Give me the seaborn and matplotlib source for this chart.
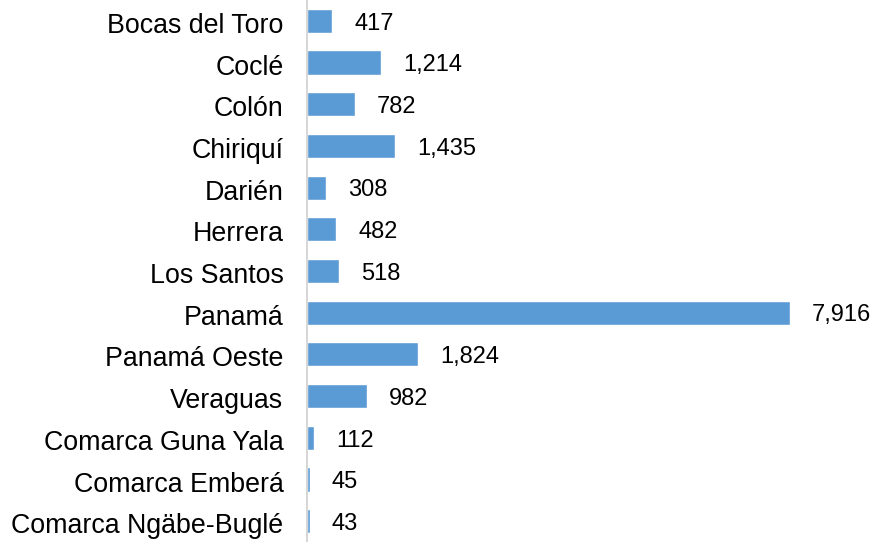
import matplotlib
matplotlib.use("Agg")
import matplotlib.pyplot as plt
import matplotlib.transforms as mtransforms
import seaborn as sns
import pandas as pd

provinces = ["Bocas del Toro", "Coclé", "Colón", "Chiriquí", "Darién", "Herrera",
             "Los Santos", "Panamá", "Panamá Oeste", "Veraguas",
             "Comarca Guna Yala", "Comarca Emberá", "Comarca Ngäbe-Buglé"]
values = [417, 1214, 782, 1435, 308, 482, 518, 7916, 1824, 982, 112, 45, 43]

df = pd.DataFrame({"prov": provinces, "val": values})

sns.set_theme(style="white")
plt.rcParams['font.family'] = ['Liberation Sans', 'DejaVu Sans']

fig = plt.figure(figsize=(8.76, 5.42), dpi=100)
ax = fig.add_axes([307/876, 0.0, 1 - 307/876, 1.0])
sns.barplot(data=df, x="val", y="prov", color="#5B9BD5", saturation=1,
            width=0.58, ax=ax, orient="h")
ax.set_xlim(0, 9325)
ax.set_ylim(12.5, -0.5)
ax.set_xlabel("")
ax.set_ylabel("")
ax.set_xticks([])
for s in ["top", "right", "bottom"]:
    ax.spines[s].set_visible(False)
ax.spines["left"].set_color("#D0D0D0")
ax.spines["left"].set_linewidth(1.2)
ax.tick_params(axis="y", length=0, pad=17, labelsize=19.3, labelcolor="#000000")
shift = mtransforms.ScaledTranslation(0, -1.5/72, fig.dpi_scale_trans)
for lbl in ax.get_yticklabels():
    lbl.set_color("black")
    lbl.set_transform(lbl.get_transform() + shift)

for i, v in enumerate(values):
    ax.annotate(f"{v:,}", xy=(v, i), xytext=(16, -2), textcoords="offset points",
                va="center", ha="left", fontsize=17, color="black")

fig.savefig("out.png", dpi=100)
